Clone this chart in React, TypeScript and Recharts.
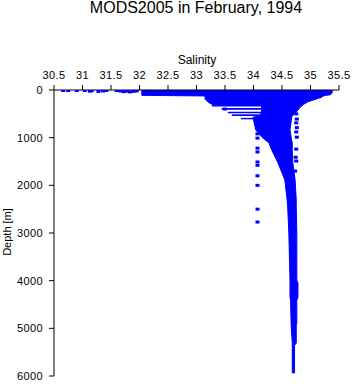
import * as React from "react";
import {
	ComposedChart,
	Area,
	Scatter,
	XAxis,
	YAxis,
	ReferenceArea,
} from "recharts";

// ─── Data ─────────────────────────────────────────────────────────────────

const SALINITY_TICKS = [30.5, 31, 31.5, 32, 32.5, 33, 33.5, 34, 34.5, 35, 35.5];
const DEPTH_TICKS = [0, 1000, 2000, 3000, 4000, 5000, 6000];

// dense part of the cloud: depth, smallest and largest salinity
const ENVELOPE_DEPTH = [
	0, 60, 100, 112, 125, 150, 190, 250, 300, 315, 357, 450, 546, 570, 840, 990,
	1110, 1260, 1530, 1890, 2310, 2460, 3000, 3990, 4050, 4350, 4410, 4890, 4940,
	5310, 5360, 5940,
];
const ENVELOPE_MIN = [
	32.04, 32.04, 32.04, 32.04, 33.15, 33.15, 33.15, 33.2, 33.27, 34.14, 34.14,
	34.14, 34.12, 33.99, 34.04, 34.15, 34.27, 34.32, 34.43, 34.55, 34.59, 34.6,
	34.62, 34.64, 34.64, 34.64, 34.65, 34.66, 34.66, 34.68, 34.68, 34.68,
];
const ENVELOPE_MAX = [
	35.38, 35.38, 35.35, 35.28, 35.22, 35.2, 35.1, 34.95, 34.88, 34.87, 34.82,
	34.76, 34.68, 34.67, 34.64, 34.66, 34.68, 34.68, 34.69, 34.73, 34.75, 34.75,
	34.76, 34.76, 34.78, 34.78, 34.76, 34.76, 34.75, 34.75, 34.72, 34.72,
];

// horizontal streaks of profiles between 300 and 650 m
const STREAK_TOP = [305, 375, 455, 510, 585];
const STREAK_BOTTOM = [345, 415, 490, 545, 615];
const STREAK_FROM = [33.27, 33.44, 33.55, 33.62, 33.78];
const STREAK_TO = [34.15, 34.15, 34.15, 34.15, 34.05];

// scattered single observations
const SURFACE_S = [
	30.66, 30.75, 30.9, 31.04, 31.13, 31.16, 31.28, 31.36, 31.42, 31.6, 31.66,
	31.72, 31.78, 31.83, 31.89, 31.95,
];
const SURFACE_DEPTH = [10, 10, 10, 10, 25, 15, 30, 20, 10, 10, 20, 35, 25, 40, 30, 20];

const FRESH_S = [34.07, 34.07, 34.07, 34.07, 34.07, 34.07, 34.07, 34.07, 34.07, 34.07, 33.5, 33.8];
const FRESH_DEPTH = [920, 1010, 1220, 1300, 1510, 1580, 1800, 2000, 2500, 2770, 400, 210];

const SALTY_S = [34.75, 34.76, 34.75, 34.76, 34.75, 34.76, 34.75, 34.74, 34.75, 34.73];
const SALTY_DEPTH = [500, 610, 690, 790, 880, 990, 1240, 1410, 1490, 1700];

const BLUE = "#0000ff";

const envelope = ENVELOPE_DEPTH.map((depth, i) => ({
	depth,
	range: [ENVELOPE_MIN[i], ENVELOPE_MAX[i]],
}));

const dots = [
	...SURFACE_S.map((s, i) => ({ s, depth: SURFACE_DEPTH[i] })),
	...FRESH_S.map((s, i) => ({ s, depth: FRESH_DEPTH[i] })),
	...SALTY_S.map((s, i) => ({ s, depth: SALTY_DEPTH[i] })),
];

function Dot(props: { cx?: number; cy?: number }) {
	const { cx = 0, cy = 0 } = props;
	return <rect x={cx - 2} y={cy - 1.5} width={4} height={3} fill={BLUE} />;
}

const tickStyle = {
	fill: "#000",
	fontSize: 11,
	fontFamily: "'Liberation Sans', Arial, sans-serif",
	letterSpacing: 0.4,
};

export default function App() {
	return (
		<div
			style={{
				position: "absolute",
				left: 0,
				top: 0,
				width: 353,
				height: 384,
				background: "#fff",
				fontFamily: "'Liberation Sans', Arial, sans-serif",
				color: "#000",
			}}
		>
			<div
				style={{
					position: "absolute",
					left: 0,
					width: 392,
					top: 0,
					lineHeight: "16px",
					textAlign: "center",
					fontSize: 16,
				}}
			>
				MODS2005 in February, 1994
			</div>
			<div
				style={{
					position: "absolute",
					left: 0,
					width: 394,
					top: 53,
					textAlign: "center",
					fontSize: 12,
				}}
			>
				Salinity
			</div>
			<div
				style={{
					position: "absolute",
					left: 7,
					top: 232,
					fontSize: 11,
					whiteSpace: "nowrap",
					transform: "translate(-50%, -50%) rotate(-90deg)",
				}}
			>
				Depth [m]
			</div>
			<ComposedChart
				width={353}
				height={384}
				data={envelope}
				layout="vertical"
				margin={{ top: 50, right: 14, bottom: 8, left: 0 }}
			>
				<XAxis
					type="number"
					orientation="top"
					domain={[30.5, 35.5]}
					ticks={SALINITY_TICKS}
					interval={0}
					allowDataOverflow
					height={40}
					tickSize={5}
					tickMargin={6}
					stroke="#000"
					tick={tickStyle}
				/>
				<YAxis
					type="number"
					dataKey="depth"
					domain={[0, 6000]}
					ticks={DEPTH_TICKS}
					interval={0}
					allowDataOverflow
					width={54}
					tickSize={5}
					tickMargin={6}
					stroke="#000"
					tick={tickStyle}
				/>
				<Area
					dataKey="range"
					type="linear"
					fill={BLUE}
					fillOpacity={1}
					stroke={BLUE}
					strokeWidth={1}
					isAnimationActive={false}
					dot={false}
					activeDot={false}
				/>
				{STREAK_TOP.map((top, i) => (
					<ReferenceArea
						key={i}
						x1={STREAK_FROM[i]}
						x2={STREAK_TO[i]}
						y1={top}
						y2={STREAK_BOTTOM[i]}
						fill={BLUE}
						fillOpacity={1}
						strokeOpacity={0}
					/>
				))}
				<Scatter
					data={dots}
					dataKey="s"
					fill={BLUE}
					shape={<Dot />}
					isAnimationActive={false}
				/>
			</ComposedChart>
		</div>
	);
}
